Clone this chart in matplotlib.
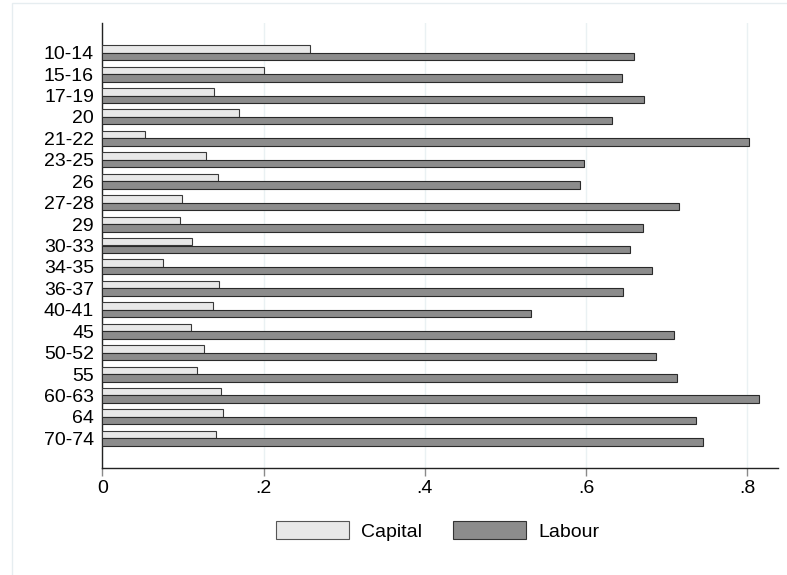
import matplotlib
matplotlib.use("Agg")
import matplotlib.pyplot as plt
from matplotlib.patches import Rectangle, Patch
import numpy as np

# Age groups and the two shares for each group
categories = ["10-14", "15-16", "17-19", "20", "21-22", "23-25", "26", "27-28", "29",
              "30-33", "34-35", "36-37", "40-41", "45", "50-52", "55", "60-63", "64", "70-74"]
capital = [0.258, 0.201, 0.139, 0.170, 0.053, 0.129, 0.143, 0.099, 0.096,
           0.111, 0.075, 0.145, 0.137, 0.110, 0.126, 0.118, 0.147, 0.150, 0.141]
labour = [0.659, 0.645, 0.672, 0.632, 0.802, 0.598, 0.592, 0.715, 0.670,
          0.654, 0.682, 0.646, 0.532, 0.709, 0.687, 0.713, 0.814, 0.736, 0.745]
xticks = [0, 0.2, 0.4, 0.6, 0.8]
xticklabels = ["0", ".2", ".4", ".6", ".8"]
series_names = ["Capital", "Labour"]

plt.rcParams["font.family"] = ["Liberation Sans", "DejaVu Sans"]

fig = plt.figure(figsize=(7.87, 5.75), dpi=100)
fig.patch.set_facecolor("white")

# light outer frame of the graph region
fig.patches.append(Rectangle((12 / 787, -0.01), 1.0, 1 - 3 / 575 + 0.01,
                             transform=fig.transFigure, fill=False,
                             edgecolor="#e6edf0", linewidth=1.0))

ax = fig.add_axes([102.3 / 787, 1 - 468.3 / 575, (778 - 102.3) / 787, (468.3 - 22.7) / 575])

y = np.arange(len(categories))
h = 0.35
ax.barh(y - h / 2, capital, height=h, color="#e8e8e8", edgecolor="#3a3a3a", linewidth=0.8,
        label=series_names[0], zorder=3)
ax.barh(y + h / 2, labour, height=h, color="#8c8c8c", edgecolor="#2a2a2a", linewidth=0.8,
        label=series_names[1], zorder=3)

ax.set_ylim(len(categories) - 1 + 1.4, -1.4)
ax.set_xlim(0, 0.838)

ax.set_yticks(y)
ax.set_yticklabels(categories, fontsize=14)
ax.tick_params(axis="y", length=0, pad=6)

ax.set_xticks(xticks)
ax.set_xticklabels(xticklabels, fontsize=14)
ax.tick_params(axis="x", length=5.5, width=1, color="#8a8a8a", pad=3)

ax.grid(axis="x", color="#eaf1f3", linewidth=1.0, zorder=0)
ax.set_axisbelow(True)

for s in ["top", "right"]:
    ax.spines[s].set_visible(False)
for s in ["left", "bottom"]:
    ax.spines[s].set_color("#222222")
    ax.spines[s].set_linewidth(1.0)

handles = [Patch(facecolor="#e8e8e8", edgecolor="#555555", linewidth=0.8),
           Patch(facecolor="#8c8c8c", edgecolor="#333333", linewidth=0.8)]
fig.legend(handles, series_names, loc="center", bbox_to_anchor=(437.5 / 787, 1 - 531 / 575),
           ncol=2, frameon=False, fontsize=14, handlelength=3.76, handleheight=1.03,
           handletextpad=0.64, columnspacing=1.57, borderpad=0)

fig.savefig("out.png", dpi=100, facecolor="white")
